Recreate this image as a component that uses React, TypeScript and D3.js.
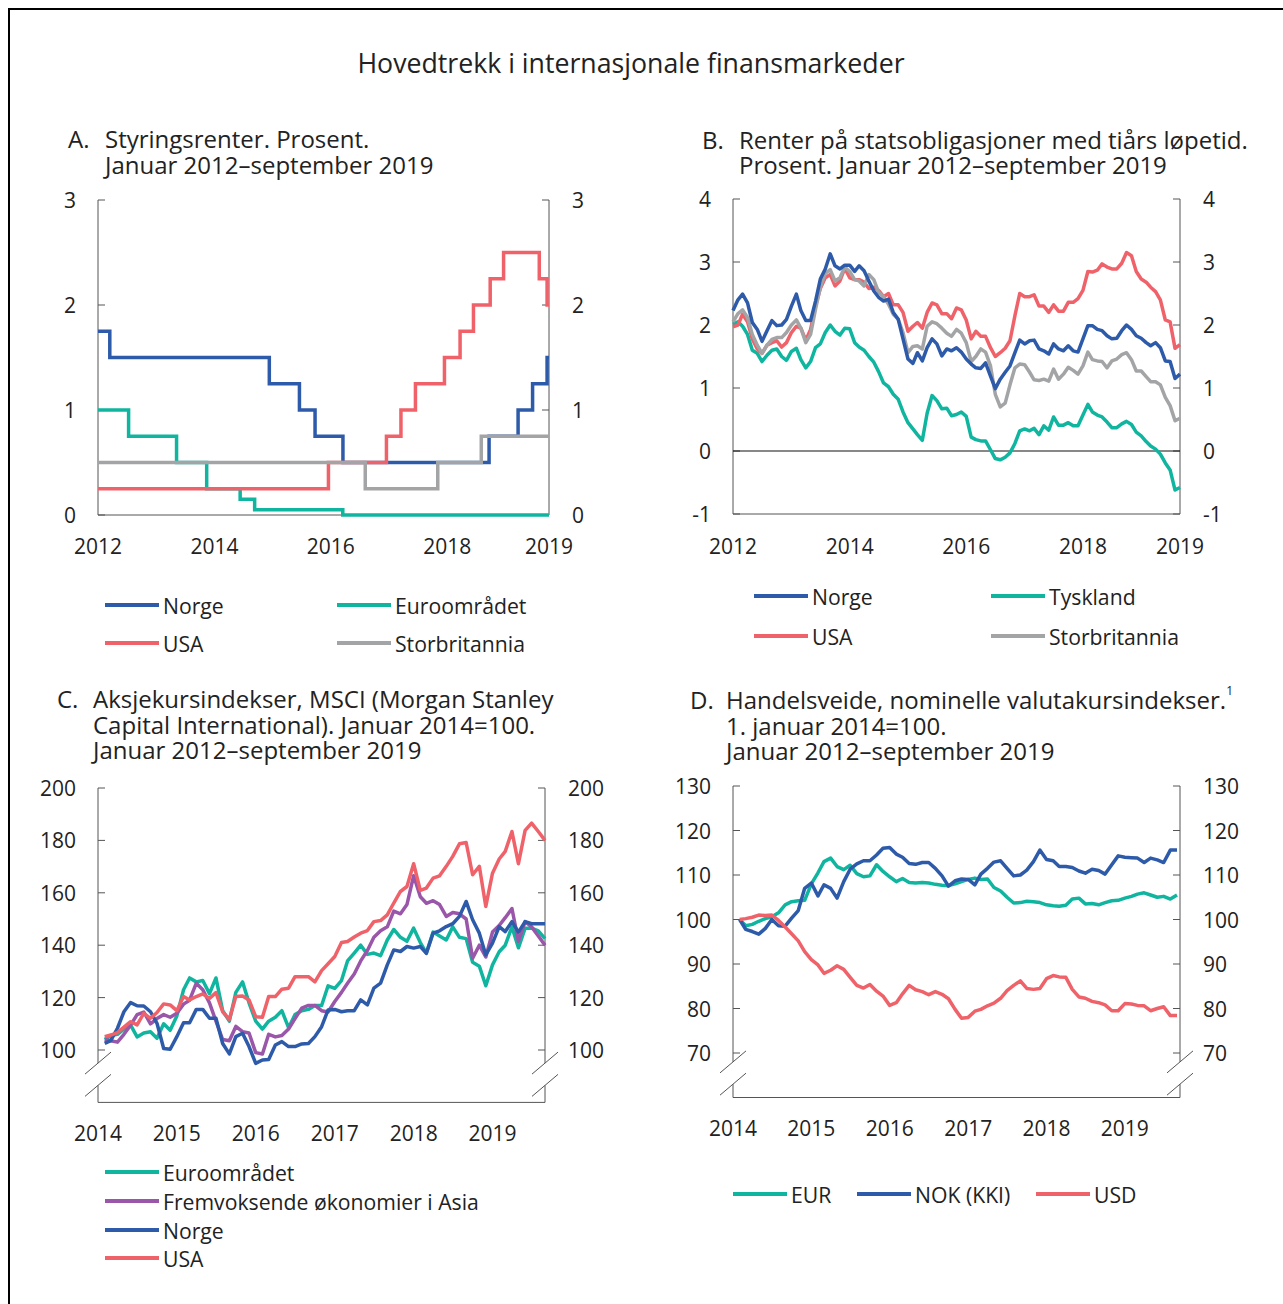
import React from "react";
import * as d3 from "d3";

const FONT = "'Open Sans', sans-serif";
const BLUE = "#2d5ba9";
const TEAL = "#10b5a0";
const RED = "#ef626a";
const GRAY = "#a3a4a6";
const PURPLE = "#9a56a8";
const AXIS = "#555";
const TXT = "#222";

// ---------- Panel A: policy rates (step changes) ----------
const aNorge: [string, number][] = [
  ["2012-01-01", 1.75], ["2012-03-15", 1.5], ["2014-12-11", 1.25], ["2015-06-18", 1.0],
  ["2015-09-24", 0.75], ["2016-03-17", 0.5], ["2018-09-20", 0.75], ["2019-03-21", 1.0],
  ["2019-06-20", 1.25], ["2019-09-19", 1.5], ["2019-10-01", 1.5],
];
const aEuro: [string, number][] = [
  ["2012-01-01", 1.0], ["2012-07-11", 0.75], ["2013-05-08", 0.5], ["2013-11-13", 0.25],
  ["2014-06-11", 0.15], ["2014-09-10", 0.05], ["2016-03-16", 0.0], ["2019-10-01", 0.0],
];
const aUSA: [string, number][] = [
  ["2012-01-01", 0.25], ["2015-12-17", 0.5], ["2016-12-15", 0.75], ["2017-03-16", 1.0],
  ["2017-06-15", 1.25], ["2017-12-14", 1.5], ["2018-03-22", 1.75], ["2018-06-14", 2.0],
  ["2018-09-27", 2.25], ["2018-12-20", 2.5], ["2019-08-01", 2.25], ["2019-09-19", 2.0],
  ["2019-10-01", 2.0],
];
const aUK: [string, number][] = [
  ["2012-01-01", 0.5], ["2016-08-04", 0.25], ["2017-11-02", 0.5], ["2018-08-02", 0.75],
  ["2019-10-01", 0.75],
];
const aYTicks = [0, 1, 2, 3];

// ---------- Panel B: 10y government bond yields, monthly from Jan 2012 ----------
const bNorge = [
  2.23, 2.40, 2.49, 2.35, 2.04, 1.93, 1.74, 1.91, 2.07, 1.99, 2.00, 2.09,
  2.30, 2.49, 2.23, 2.07, 2.07, 2.38, 2.73, 2.89, 3.13, 2.94, 2.89, 2.95,
  2.95, 2.85, 2.94, 2.86, 2.70, 2.54, 2.44, 2.38, 2.41, 2.20, 2.09, 1.78,
  1.46, 1.39, 1.56, 1.43, 1.64, 1.78, 1.70, 1.51, 1.62, 1.59, 1.64, 1.57,
  1.46, 1.38, 1.32, 1.31, 1.40, 1.19, 0.99, 1.14, 1.25, 1.35, 1.56, 1.76,
  1.70, 1.75, 1.76, 1.62, 1.59, 1.54, 1.70, 1.62, 1.59, 1.67, 1.59, 1.57,
  1.78, 1.99, 1.99, 1.93, 1.91, 1.83, 1.78, 1.79, 1.91, 2.00, 1.93, 1.83,
  1.79, 1.72, 1.67, 1.72, 1.64, 1.43, 1.42, 1.15, 1.22,
];
const bTyskland = [
  2.01, 2.05, 1.98, 1.85, 1.60, 1.55, 1.42, 1.52, 1.60, 1.62, 1.50, 1.44,
  1.58, 1.63, 1.45, 1.32, 1.42, 1.64, 1.70, 1.88, 2.00, 1.90, 1.84, 1.95,
  1.94, 1.72, 1.65, 1.60, 1.50, 1.41, 1.26, 1.08, 1.02, 0.90, 0.82, 0.62,
  0.45, 0.35, 0.26, 0.17, 0.60, 0.88, 0.80, 0.67, 0.68, 0.56, 0.58, 0.62,
  0.55, 0.22, 0.18, 0.16, 0.16, 0.02, -0.12, -0.14, -0.10, -0.03, 0.12, 0.32,
  0.35, 0.32, 0.36, 0.26, 0.40, 0.33, 0.54, 0.41, 0.41, 0.45, 0.40, 0.40,
  0.57, 0.74, 0.62, 0.57, 0.54, 0.46, 0.37, 0.37, 0.43, 0.47, 0.42, 0.30,
  0.24, 0.15, 0.08, 0.03, -0.05, -0.19, -0.30, -0.62, -0.58,
];
const bUSA = [
  1.97, 2.00, 2.17, 2.05, 1.78, 1.62, 1.55, 1.68, 1.72, 1.75, 1.65, 1.72,
  1.88, 1.98, 1.95, 1.76, 1.93, 2.30, 2.58, 2.75, 2.80, 2.62, 2.70, 2.90,
  2.75, 2.72, 2.72, 2.68, 2.58, 2.60, 2.55, 2.45, 2.50, 2.32, 2.32, 2.20,
  1.90, 1.98, 2.04, 1.95, 2.20, 2.35, 2.32, 2.18, 2.18, 2.10, 2.27, 2.24,
  2.08, 1.78, 1.90, 1.82, 1.82, 1.64, 1.50, 1.56, 1.63, 1.75, 2.15, 2.50,
  2.45, 2.45, 2.48, 2.30, 2.30, 2.20, 2.32, 2.22, 2.22, 2.36, 2.36, 2.42,
  2.55, 2.85, 2.84, 2.87, 2.97, 2.92, 2.89, 2.89, 2.98, 3.15, 3.10, 2.85,
  2.73, 2.68, 2.60, 2.53, 2.40, 2.08, 2.05, 1.63, 1.69,
];
const bUK = [
  2.05, 2.18, 2.24, 2.12, 1.85, 1.68, 1.55, 1.68, 1.77, 1.80, 1.80, 1.88,
  2.00, 2.08, 1.95, 1.72, 1.85, 2.25, 2.60, 2.82, 2.88, 2.70, 2.75, 2.92,
  2.85, 2.72, 2.70, 2.62, 2.80, 2.72, 2.52, 2.45, 2.33, 2.17, 2.09, 1.88,
  1.56, 1.66, 1.67, 1.62, 1.98, 2.05, 2.02, 1.95, 1.87, 1.82, 1.93, 1.87,
  1.72, 1.42, 1.50, 1.62, 1.57, 1.35, 0.90, 0.70, 0.76, 1.05, 1.32, 1.38,
  1.37, 1.25, 1.13, 1.12, 1.14, 1.11, 1.30, 1.14, 1.22, 1.33, 1.28, 1.22,
  1.35, 1.57, 1.45, 1.43, 1.42, 1.32, 1.43, 1.46, 1.53, 1.56, 1.45, 1.27,
  1.27, 1.18, 1.10, 1.10, 1.05, 0.85, 0.72, 0.48, 0.52,
];
const bYTicks = [-1, 0, 1, 2, 3, 4];

// ---------- Panel C: MSCI equity indices, monthly (end Jan 2014 – Aug 2019) ----------
const cEuro = [
  104, 105.5, 106, 108, 109.5, 105, 106.5, 107, 104.5, 110,
  107.5, 113, 123, 127.5, 126, 126.5, 121.5, 127.5, 115, 111,
  122, 126, 118, 111, 108, 111, 112.5, 115, 108.5, 113.5,
  115, 115.5, 117, 117, 124.5, 123.5, 126.5, 134, 137, 140,
  136.5, 137, 136, 142, 146, 143, 141.5, 146.5, 141, 137,
  145, 143.5, 142, 147, 143, 142.5, 133.5, 132, 124.5, 132.5,
  137.5, 140, 147, 139, 146.5, 146.5, 145.5, 142.5,
];
const cAsia = [
  104, 103.5, 103, 106, 109.5, 113.5, 114.5, 110, 112, 113.5,
  112.5, 114, 117.5, 119, 125.5, 123, 118, 111, 104, 103.5,
  109, 107, 106.5, 99, 98.5, 106, 105, 105.5, 108, 112,
  116, 117, 117, 115, 114.5, 118.5, 122, 125.5, 129, 134,
  138, 143, 145.5, 147, 153, 152, 155.5, 166.5, 158.5, 156,
  157, 155.5, 151, 152.5, 152, 150, 135, 140, 135.5, 145,
  147.5, 150.5, 154, 141.5, 149, 147, 143.5, 140,
];
const cNorge = [
  102.5, 103.6, 108.3, 114.6, 118.1, 116.9, 116.8, 114.6, 110.2, 100.6,
  100.3, 105.1, 110.4, 110.4, 115.5, 115.5, 112.1, 112.1, 102.5, 98.5,
  105.1, 106.4, 101.3, 94.9, 96.2, 96.4, 101.9, 103.2, 101.3, 101.3,
  102.3, 102.5, 105.1, 108.9, 115.3, 115.5, 114.6, 115.0, 115.0, 119.1,
  117.2, 123.6, 125.5, 132.5, 138.2, 137.6, 139.5, 138.9, 139.5, 136.9,
  144.6, 145.5, 147.1, 148.2, 151.0, 156.7, 149.7, 144.6, 136.3, 140.8,
  147.1, 145.2, 149.0, 145.0, 149.0, 148.2, 148.2, 148.2,
];
const cUSA = [
  105.1, 105.7, 106.6, 108.7, 110.8, 109.6, 114.0, 112.1, 114.3, 117.6,
  117.2, 115.0, 120.4, 119.1, 120.4, 121.4, 119.7, 121.9, 114.6, 111.7,
  120.4, 120.6, 119.1, 112.7, 112.5, 120.4, 120.4, 123.2, 123.6, 128.0,
  128.0, 128.0, 126.0, 130.3, 132.9, 135.7, 141.0, 141.4, 143.1, 144.6,
  145.6, 149.0, 149.4, 151.6, 156.1, 160.5, 162.4, 171.1, 160.9, 161.8,
  165.6, 166.5, 170.1, 173.9, 178.7, 179.2, 166.9, 170.1, 154.8, 167.5,
  172.9, 175.8, 183.4, 171.1, 183.8, 186.6, 183.4, 180.0,
];
const cYTicks = [100, 120, 140, 160, 180, 200];

// ---------- Panel D: trade-weighted exchange rate indices, monthly ----------
const dEUR = [
  100, 98.6, 98.9, 99.6, 100.2, 100.6, 101.5, 103.3, 104, 104.2,
  104.3, 108, 110.5, 113, 113.8, 111.9, 111.2, 112.2, 110.3, 109.6,
  109.8, 112.3, 110.8, 109.6, 108.5, 109.2, 108.3, 108.2, 108.3, 108.2,
  107.9, 107.7, 107.6, 108, 108.5, 109, 109.3, 109, 109.1, 107.2,
  106.4, 105, 103.7, 103.8, 104.1, 104, 103.8, 103.3, 103.1, 103,
  103.2, 104.6, 104.8, 103.5, 103.6, 103.3, 103.8, 104.2, 104.3, 104.8,
  105.2, 105.7, 106, 105.5, 105, 105.2, 104.6, 105.5,
];
const dNOK = [
  100, 97.8, 97.3, 96.7, 98, 100, 98.6, 98.5, 100.3, 102,
  107, 108.2, 105.3, 107.8, 107, 104.8, 108.5, 111.3, 112.5, 113.2,
  113.2, 114.5, 116, 116.2, 114.7, 114, 112.6, 112.4, 112.8, 112.8,
  111.5, 109.8, 107.5, 108.7, 109.1, 109, 107.8, 110.2, 111.5, 112.9,
  113.2, 111.5, 109.8, 110, 111.1, 113, 115.6, 113.5, 113.2, 111.9,
  111.9, 111.7, 110.9, 110.4, 111.3, 111, 110.2, 112.3, 114.3, 114,
  113.9, 113.8, 112.8, 113.8, 113.4, 112.8, 115.6, 115.6,
];
const dUSD = [
  100, 100.2, 100.5, 101, 100.9, 101, 99.8, 98.3, 96.8, 95.2,
  92.8, 91, 89.8, 87.9, 88.6, 89.6, 88.8, 87, 85.2, 84.6,
  85.4, 83.9, 82.8, 80.7, 81.3, 83.3, 85.2, 84.2, 83.8, 83.1,
  83.8, 83.2, 82.2, 79.8, 77.8, 78, 79.4, 79.8, 80.6, 81.2,
  82.3, 84, 85.2, 86.2, 84.5, 84.3, 84.5, 86.7, 87.4, 87.1,
  87, 84.3, 82.6, 82.3, 81.6, 81.3, 80.8, 79.5, 79.5, 81.1,
  81, 80.7, 80.6, 79.5, 80, 80.4, 78.4, 78.4,
];
const dYTicks = [70, 80, 90, 100, 110, 120, 130];

// x tick labels (label, date where it sits)
const abXTicks: [string, string][] = [["2012", "2012-01-01"], ["2014", "2014-01-01"], ["2016", "2016-01-01"], ["2018", "2018-01-01"]];
const cdXTicks = ["2014", "2015", "2016", "2017", "2018", "2019"];

const parse = d3.timeParse("%Y-%m-%d") as (s: string) => Date;

type Pt = { d: Date; v: number };
const monthly = (start: string, vals: number[], offset: number): Pt[] =>
  vals.map((v, i) => ({ d: d3.timeMonth.offset(parse(start), i + offset), v }));
const steps = (arr: [string, number][]): Pt[] => arr.map(([s, v]) => ({ d: parse(s), v }));

function Legend({ items, fs = 21.2 }: { items: { x: number; y: number; color: string; label: string }[]; fs?: number }) {
  return (
    <g>
      {items.map((it, i) => (
        <g key={i}>
          <line x1={it.x} x2={it.x + 54} y1={it.y} y2={it.y} stroke={it.color} strokeWidth={4} />
          <text x={it.x + 58} y={it.y} dominantBaseline="central" fontSize={fs} fill={TXT}>{it.label}</text>
        </g>
      ))}
    </g>
  );
}

function Title({ x, xl, y, step, letter, lines, sup }: { x: number; xl: number; y: number; step: number; letter: string; lines: string[]; sup?: string }) {
  return (
    <text x={xl} y={y} fontSize={24} fill={TXT} dominantBaseline="central">
      <tspan x={xl} y={y}>{letter}</tspan>
      {lines.map((l, i) => (
        <tspan key={i} x={x} y={y + i * step}>{l}</tspan>
      ))}
      {sup && (
        <tspan fontSize={12} dy={-9}>{sup}</tspan>
      )}
    </text>
  );
}

function Slash({ cx, cy }: { cx: number; cy: number }) {
  return <line x1={cx - 13} y1={cy + 11} x2={cx + 13} y2={cy - 11} stroke={AXIS} strokeWidth={1} />;
}

export default function App() {
  // ----- A -----
  const xA = d3.scaleTime().domain([parse("2012-01-01"), parse("2019-10-01")]).range([98, 549]);
  const yA = d3.scaleLinear().domain([0, 3]).range([515, 200]);
  const lineA = d3.line<Pt>().x((p) => xA(p.d)).y((p) => yA(p.v)).curve(d3.curveStepAfter);

  // ----- B -----
  const xB = d3.scaleTime().domain([parse("2012-01-01"), parse("2019-09-01")]).range([733, 1180]);
  const yB = d3.scaleLinear().domain([-1, 4]).range([514, 199]);
  const lineB = d3.line<Pt>().x((p) => xB(p.d)).y((p) => yB(p.v));

  // ----- C -----
  const xC = d3.scaleTime().domain([parse("2014-01-01"), parse("2019-09-01")]).range([98, 545]);
  const yC = d3.scaleLinear().domain([100, 200]).range([1050, 788]);
  const lineC = d3.line<Pt>().x((p) => xC(p.d)).y((p) => yC(p.v));

  // ----- D -----
  const xD = d3.scaleTime().domain([parse("2014-01-01"), parse("2019-09-15")]).range([733, 1180]);
  const yD = d3.scaleLinear().domain([70, 130]).range([1053, 786]);
  const lineD = d3.line<Pt>().x((p) => xD(p.d)).y((p) => yD(p.v));

  const yAxis = (x: number, y0: number, y1: number, ticks: number[], ys: (v: number) => number, side: "l" | "r") => (
    <g>
      <line x1={x} x2={x} y1={y0} y2={y1} stroke={AXIS} strokeWidth={1} />
      {ticks.map((t) => (
        <g key={t}>
          <line x1={x} x2={side === "l" ? x + 7 : x - 7} y1={ys(t)} y2={ys(t)} stroke={AXIS} strokeWidth={1} />
          <text x={side === "l" ? x - 22 : x + 23} y={ys(t)} textAnchor={side === "l" ? "end" : "start"} dominantBaseline="central" fontSize={21} fill={TXT}>
            {t}
          </text>
        </g>
      ))}
    </g>
  );

  // axis-break positions
  const cBreak1 = yC(95), cBreak2 = yC(86.5), cBottom = yC(80);
  const dBreak1 = yD(68), dBreak2 = yD(63), dBottom = yD(60);

  return (
    <div style={{ position: "absolute", left: 0, top: 0, width: 1283, height: 1304, background: "#fff" }}>
      <svg width={1283} height={1304} style={{ display: "block" }} fontFamily={FONT}>
        <rect x={0} y={0} width={1283} height={1304} fill="#fff" />
        {/* frame */}
        <line x1={8} x2={1283} y1={9} y2={9} stroke="#000" strokeWidth={2} />
        <line x1={9} x2={9} y1={8} y2={1304} stroke="#000" strokeWidth={2} />

        <text x={631} y={62} textAnchor="middle" dominantBaseline="central" fontSize={26.7} fill={TXT}>
          Hovedtrekk i internasjonale finansmarkeder
        </text>

        {/* ===== Panel A ===== */}
        <Title xl={68} x={105} y={138} step={26} letter="A." lines={["Styringsrenter. Prosent.", "Januar 2012–september 2019"]} />
        {yAxis(98, 200, 515, aYTicks, yA, "l")}
        {yAxis(549, 200, 515, aYTicks, yA, "r")}
        <line x1={98} x2={549} y1={yA(0)} y2={yA(0)} stroke={AXIS} strokeWidth={1} />
        {abXTicks.map(([l, d]) => (
          <text key={l} x={xA(parse(d))} y={546} textAnchor="middle" dominantBaseline="central" fontSize={21} fill={TXT}>{l}</text>
        ))}
        <text x={549} y={546} textAnchor="middle" dominantBaseline="central" fontSize={21} fill={TXT}>2019</text>
        <g fill="none" strokeWidth={3.5}>
          <path d={lineA(steps(aNorge)) || ""} stroke={BLUE} />
          <path d={lineA(steps(aEuro)) || ""} stroke={TEAL} />
          <path d={lineA(steps(aUSA)) || ""} stroke={RED} />
          <path d={lineA(steps(aUK)) || ""} stroke={GRAY} />
        </g>
        <Legend items={[
          { x: 105, y: 605, color: BLUE, label: "Norge" },
          { x: 337, y: 605, color: TEAL, label: "Euroområdet" },
          { x: 105, y: 643, color: RED, label: "USA" },
          { x: 337, y: 643, color: GRAY, label: "Storbritannia" },
        ]} />

        {/* ===== Panel B ===== */}
        <Title xl={702} x={739} y={139} step={25} letter="B." lines={["Renter på statsobligasjoner med tiårs løpetid.", "Prosent. Januar 2012–september 2019"]} />
        {yAxis(733, 199, 514, bYTicks, yB, "l")}
        {yAxis(1180, 199, 514, bYTicks, yB, "r")}
        <line x1={733} x2={1180} y1={yB(-1)} y2={yB(-1)} stroke={AXIS} strokeWidth={1} />
        <line x1={733} x2={1180} y1={yB(0)} y2={yB(0)} stroke="#111" strokeWidth={1} />
        {abXTicks.map(([l, d]) => (
          <text key={l} x={xB(parse(d))} y={546} textAnchor="middle" dominantBaseline="central" fontSize={21} fill={TXT}>{l}</text>
        ))}
        <text x={1180} y={546} textAnchor="middle" dominantBaseline="central" fontSize={21} fill={TXT}>2019</text>
        <g fill="none" strokeWidth={3.5} strokeLinejoin="round">
          <path d={lineB(monthly("2012-01-01", bTyskland, 0)) || ""} stroke={TEAL} />
          <path d={lineB(monthly("2012-01-01", bUSA, 0)) || ""} stroke={RED} />
          <path d={lineB(monthly("2012-01-01", bUK, 0)) || ""} stroke={GRAY} />
          <path d={lineB(monthly("2012-01-01", bNorge, 0)) || ""} stroke={BLUE} />
        </g>
        <Legend items={[
          { x: 754, y: 596, color: BLUE, label: "Norge" },
          { x: 991, y: 596, color: TEAL, label: "Tyskland" },
          { x: 754, y: 636, color: RED, label: "USA" },
          { x: 991, y: 636, color: GRAY, label: "Storbritannia" },
        ]} />

        {/* ===== Panel C ===== */}
        <Title xl={57} x={93} y={698} step={25.5} letter="C." lines={["Aksjekursindekser, MSCI (Morgan Stanley", "Capital International). Januar 2014=100.", "Januar 2012–september 2019"]} />
        {yAxis(98, 788, cBreak1, cYTicks, yC, "l")}
        {yAxis(545, 788, cBreak1, cYTicks, yC, "r")}
        <line x1={98} x2={98} y1={cBreak2} y2={cBottom} stroke={AXIS} strokeWidth={1} />
        <line x1={545} x2={545} y1={cBreak2} y2={cBottom} stroke={AXIS} strokeWidth={1} />
        <line x1={98} x2={545} y1={cBottom} y2={cBottom} stroke={AXIS} strokeWidth={1} />
        <Slash cx={98} cy={cBreak1} />
        <Slash cx={98} cy={cBreak2} />
        <Slash cx={545} cy={cBreak1} />
        <Slash cx={545} cy={cBreak2} />
        {cdXTicks.map((l) => (
          <text key={l} x={xC(parse(`${l}-01-01`))} y={1133} textAnchor="middle" dominantBaseline="central" fontSize={21} fill={TXT}>{l}</text>
        ))}
        <g fill="none" strokeWidth={3.5} strokeLinejoin="round">
          <path d={lineC(monthly("2014-01-01", cEuro, 1)) || ""} stroke={TEAL} />
          <path d={lineC(monthly("2014-01-01", cAsia, 1)) || ""} stroke={PURPLE} />
          <path d={lineC(monthly("2014-01-01", cNorge, 1)) || ""} stroke={BLUE} />
          <path d={lineC(monthly("2014-01-01", cUSA, 1)) || ""} stroke={RED} />
        </g>
        <Legend items={[
          { x: 105, y: 1172, color: TEAL, label: "Euroområdet" },
          { x: 105, y: 1201, color: PURPLE, label: "Fremvoksende økonomier i Asia" },
          { x: 105, y: 1230, color: BLUE, label: "Norge" },
          { x: 105, y: 1258, color: RED, label: "USA" },
        ]} />

        {/* ===== Panel D ===== */}
        <text x={690} y={699} fontSize={24} fill={TXT} dominantBaseline="central">
          <tspan x={690} y={699}>D.</tspan>
          <tspan x={726} y={699}>Handelsveide, nominelle valutakursindekser.</tspan>
          <tspan fontSize={12} dy={-9}>1</tspan>
          <tspan x={726} y={724.5}>1. januar 2014=100.</tspan>
          <tspan x={726} y={750}>Januar 2012–september 2019</tspan>
        </text>
        {yAxis(733, 786, dBreak1, dYTicks, yD, "l")}
        {yAxis(1180, 786, dBreak1, dYTicks, yD, "r")}
        <line x1={733} x2={733} y1={dBreak2} y2={dBottom} stroke={AXIS} strokeWidth={1} />
        <line x1={1180} x2={1180} y1={dBreak2} y2={dBottom} stroke={AXIS} strokeWidth={1} />
        <line x1={733} x2={1180} y1={dBottom} y2={dBottom} stroke={AXIS} strokeWidth={1} />
        <Slash cx={733} cy={dBreak1} />
        <Slash cx={733} cy={dBreak2} />
        <Slash cx={1180} cy={dBreak1} />
        <Slash cx={1180} cy={dBreak2} />
        {cdXTicks.map((l) => (
          <text key={l} x={xD(parse(`${l}-01-01`))} y={1128} textAnchor="middle" dominantBaseline="central" fontSize={21} fill={TXT}>{l}</text>
        ))}
        <g fill="none" strokeWidth={3.5} strokeLinejoin="round">
          <path d={lineD(monthly("2014-01-01", dEUR, 1)) || ""} stroke={TEAL} />
          <path d={lineD(monthly("2014-01-01", dNOK, 1)) || ""} stroke={BLUE} />
          <path d={lineD(monthly("2014-01-01", dUSD, 1)) || ""} stroke={RED} />
        </g>
        <Legend items={[
          { x: 733, y: 1194, color: TEAL, label: "EUR" },
          { x: 857, y: 1194, color: BLUE, label: "NOK (KKI)" },
          { x: 1036, y: 1194, color: RED, label: "USD" },
        ]} />
      </svg>
    </div>
  );
}
